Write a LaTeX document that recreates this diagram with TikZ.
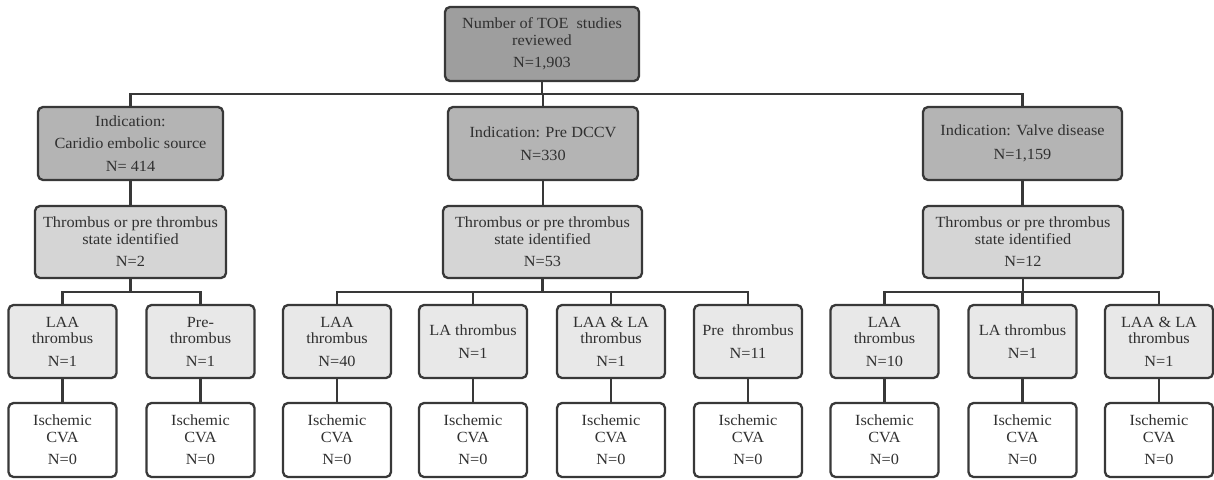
\documentclass[tikz,border=0pt]{standalone}
\usepackage{fontspec}
\setmainfont{Liberation Serif}[FakeStretch=1.05]
\definecolor{topfill}{HTML}{9E9E9E}
\definecolor{indfill}{HTML}{B4B4B4}
\definecolor{thrfill}{HTML}{D5D5D5}
\definecolor{subfill}{HTML}{E8E8E8}
\definecolor{edge}{HTML}{383838}
\definecolor{txt}{HTML}{303030}
\tikzset{
  box/.style={draw=edge, line width=2.3pt, rounded corners=5pt, align=center,
    inner sep=0pt, text=txt, font=\fontsize{15.5}{16.5}\selectfont},
  topbox/.style={box, fill=topfill, minimum width=194pt, minimum height=74pt},
  indbox/.style={box, fill=indfill, minimum height=73pt},
  thrbox/.style={box, fill=thrfill, minimum height=72pt},
  subbox/.style={box, fill=subfill, minimum width=108pt, minimum height=73pt},
  cvabox/.style={box, fill=white, minimum width=108pt, minimum height=74pt},
  conn/.style={draw=edge, line width=2.1pt}
}
\begin{document}
\begin{tikzpicture}[x=1pt,y=-1pt]
\useasboundingbox (0,0) rectangle (1214,479);
\coordinate (h0) at (0,94);
\coordinate (h1) at (0,292);

\node[topbox] (top) at (542,44) {Number of TOE\ \ studies\\reviewed\\[6pt]N=1,903};

\node[indbox, minimum width=185pt] (ia) at (130.5,143.5) {Indication:\\[6pt]Caridio embolic source\\[6pt]N= 414};
\node[indbox, minimum width=190pt] (ib) at (543,143.5) {Indication: Pre DCCV\\[7pt]N=330};
\node[indbox, minimum width=199pt] (ic) at (1022.5,143.5) {Indication: Valve disease\\[7pt]N=1,159};

\node[thrbox, minimum width=191pt] (ta) at (130.5,242) {Thrombus or pre thrombus\\state identified\\[6pt]N=2};
\node[thrbox, minimum width=199pt] (tb) at (542.5,242) {Thrombus or pre thrombus\\state identified\\[6pt]N=53};
\node[thrbox, minimum width=200pt] (tc) at (1023,242) {Thrombus or pre thrombus\\state identified\\[6pt]N=12};

\node[subbox] (s1) at (62.5,341.5) {LAA\\thrombus\\[6pt]N=1};
\node[subbox] (s2) at (200.5,341.5) {Pre-\\thrombus\\[6pt]N=1};
\node[subbox] (s3) at (337,341.5) {LAA\\thrombus\\[6pt]N=40};
\node[subbox] (s4) at (473,341.5) {LA thrombus\\[7pt]N=1};
\node[subbox] (s5) at (611,341.5) {LAA \& LA\\thrombus\\[6pt]N=1};
\node[subbox] (s6) at (748,341.5) {Pre\ \ thrombus\\[7pt]N=11};
\node[subbox] (s7) at (884.5,341.5) {LAA\\thrombus\\[6pt]N=10};
\node[subbox] (s8) at (1022.5,341.5) {LA thrombus\\[7pt]N=1};
\node[subbox] (s9) at (1159,341.5) {LAA \& LA\\thrombus\\[6pt]N=1};

\foreach \i/\x in {1/62.5,2/200.5,3/337,4/473,5/611,6/748,7/884.5,8/1022.5,9/1159}{
  \node[cvabox] (c\i) at (\x,440) {Ischemic\\CVA\\[6pt]N=0};
  \draw[conn] (s\i.south) -- (s\i.south |- c\i.north);
}

% top level connectors
\draw[conn] (top.south) -- (top.south |- h0);
\draw[conn] (ia.north) -- (ia.north |- h0) -- (ic.north |- h0) -- (ic.north);
\draw[conn] (ib.north) -- (ib.north |- h0);

% indication to thrombus
\draw[conn] (ia.south) -- (ia.south |- ta.north);
\draw[conn] (ib.south) -- (ib.south |- tb.north);
\draw[conn] (ic.south) -- (ic.south |- tc.north);

% thrombus to subtypes
\draw[conn] (ta.south) -- (ta.south |- h1);
\draw[conn] (s1.north) -- (s1.north |- h1) -- (s2.north |- h1) -- (s2.north);

\draw[conn] (tb.south) -- (tb.south |- h1);
\draw[conn] (s3.north) -- (s3.north |- h1) -- (s6.north |- h1) -- (s6.north);
\draw[conn] (s4.north) -- (s4.north |- h1);
\draw[conn] (s5.north) -- (s5.north |- h1);

\draw[conn] (tc.south) -- (tc.south |- h1);
\draw[conn] (s7.north) -- (s7.north |- h1) -- (s9.north |- h1) -- (s9.north);
\draw[conn] (s8.north) -- (s8.north |- h1);
\end{tikzpicture}
\end{document}
